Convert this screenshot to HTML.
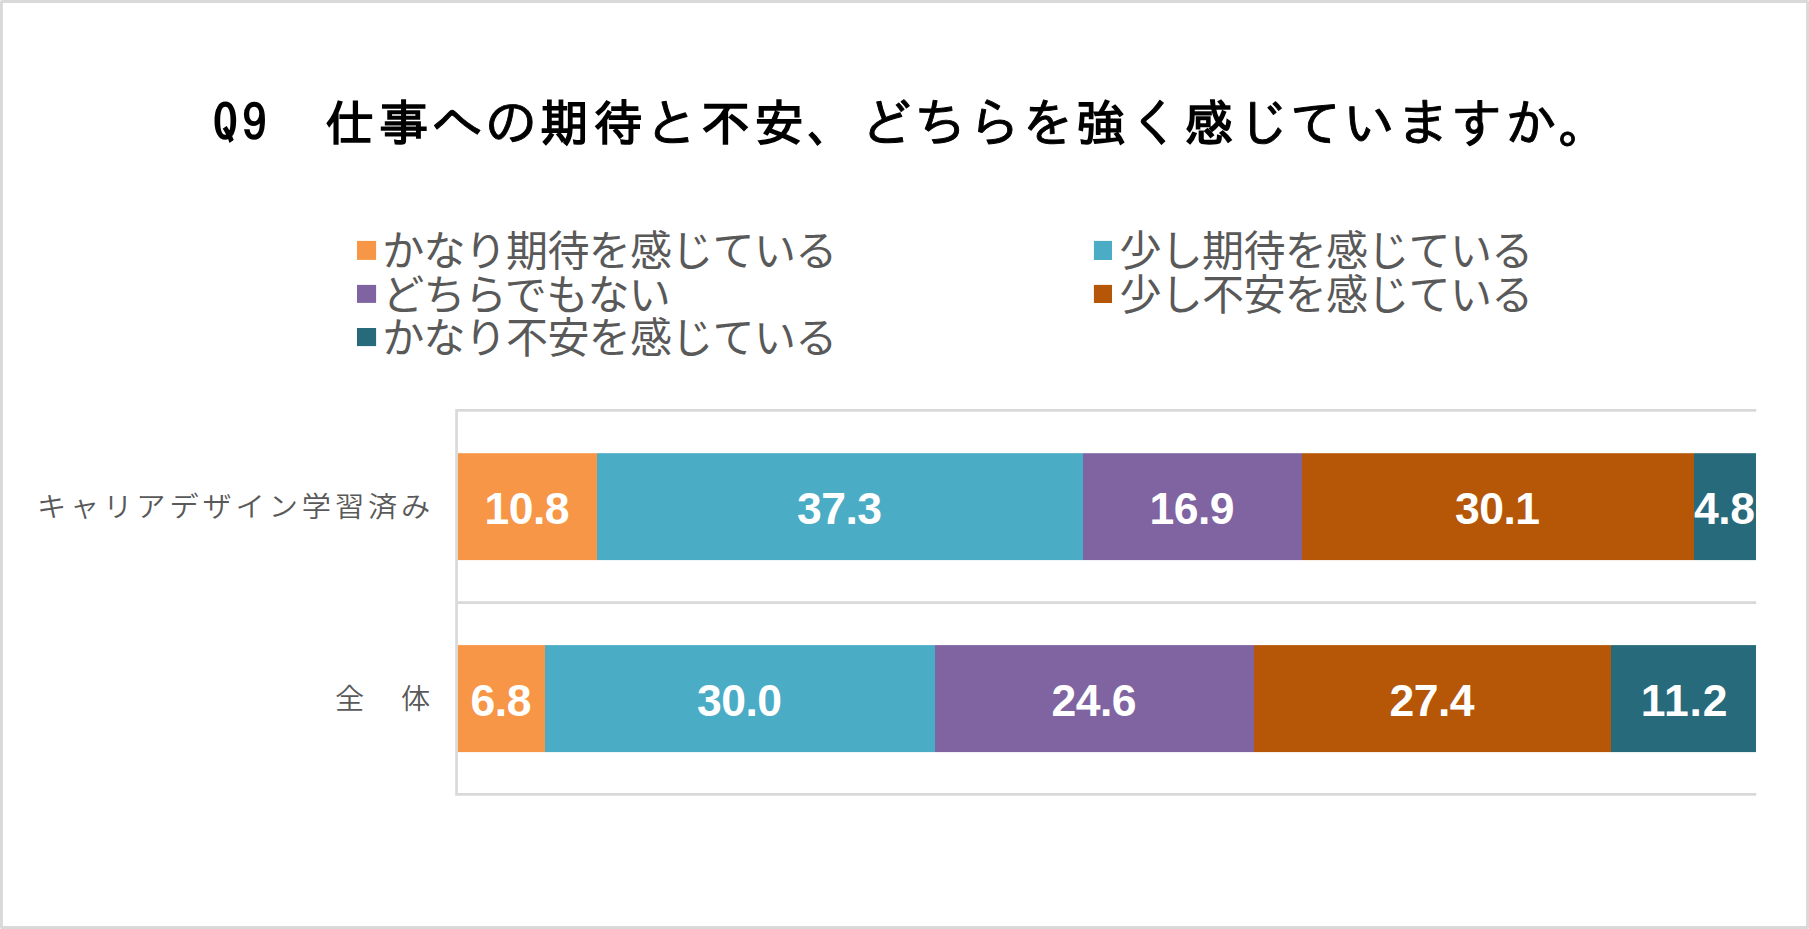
<!DOCTYPE html>
<html lang="ja">
<head>
<meta charset="utf-8">
<title>Q9 仕事への期待と不安</title>
<style>
html,body{margin:0;padding:0;background:#fff;}
body{width:1809px;height:929px;overflow:hidden;position:relative;}
svg{position:absolute;left:0;top:0;display:block;}
.title{font-family:"Liberation Sans","IPAGothic","Noto Sans CJK JP",sans-serif;font-weight:bold;font-size:49.3px;fill:#000;}
.q{font-family:"IPAGothic","Liberation Mono",monospace;}
.kn{font-weight:normal;font-size:52.5px;stroke:#000;stroke-width:0.9px;stroke-linejoin:round;}
.leg{font-family:"Liberation Sans","Noto Sans CJK JP",sans-serif;font-size:42px;letter-spacing:-0.7px;fill:#595959;}
.cat{font-family:"Liberation Sans","Noto Sans CJK JP",sans-serif;font-weight:350;font-size:29.2px;fill:#595959;letter-spacing:3.9px;}
.val{font-family:"Liberation Sans",sans-serif;font-weight:bold;font-size:44.5px;letter-spacing:-0.5px;fill:#fff;text-anchor:middle;}
</style>
</head>
<body>
<svg width="1809" height="929" viewBox="0 0 1809 929">
  <!-- outer frame -->
  <rect x="0" y="0" width="1809" height="929" rx="2" ry="2" fill="#d9d9d9"/>
  <rect x="2.9" y="3" width="1803.15" height="923.05" fill="#ffffff"/>

  <!-- title -->
  <text class="title" y="141"><tspan class="q" x="213.1 242.1">Q9</tspan><tspan x="271">　</tspan><tspan class="kj" x="325.2 378.9" y="141">仕事</tspan><tspan class="kn" x="430.9 484.6" y="142.2">への</tspan><tspan class="kj" x="539.9 593.5" y="141">期待</tspan><tspan class="kn" x="645.6" y="142.2">と</tspan><tspan class="kj" x="700.9 754.5" y="141">不安</tspan><tspan class="kn" x="806.6 860.3 914.0 967.6 1021.3" y="142.2">、どちらを</tspan><tspan class="kj" x="1076.6" y="141">強</tspan><tspan class="kn" x="1128.6" y="142.2">く</tspan><tspan class="kj" x="1183.9" y="141">感</tspan><tspan class="kn" x="1236.0 1289.6 1343.3 1397.0 1450.7 1504.3 1558.0" y="142.2">じていますか。</tspan></text>

  <!-- legend -->
  <rect x="357" y="240.9" width="19.1" height="19" fill="#f79646"/>
  <text class="leg" x="382.2" y="266">かなり期待を感じている</text>
  <rect x="357" y="284.9" width="19.1" height="18" fill="#8064a2"/>
  <text class="leg" x="382.2" y="309.5">どちらでもない</text>
  <rect x="357" y="328" width="19.1" height="18.1" fill="#276a7c"/>
  <text class="leg" x="382.2" y="353">かなり不安を感じている</text>
  <rect x="1093.9" y="240.9" width="18.1" height="19.1" fill="#4bacc6"/>
  <text class="leg" x="1119.5" y="266">少し期待を感じている</text>
  <rect x="1093.9" y="284.9" width="18.1" height="18.1" fill="#b65708"/>
  <text class="leg" x="1119.5" y="309.5">少し不安を感じている</text>

  <!-- grid lines -->
  <g fill="#d9d9d9">
    <rect x="457.9" y="409" width="1298.3" height="2.7"/>
    <rect x="457.9" y="601.2" width="1298.3" height="2.8"/>
    <rect x="457.9" y="793" width="1298.3" height="2.7"/>
    <rect x="455.2" y="409" width="2.7" height="386.7"/>
  </g>

  <!-- row 1 bars -->
  <rect x="458" y="453.2" width="139" height="106.9" fill="#f79646"/>
  <rect x="597" y="453.2" width="486" height="106.9" fill="#4bacc6"/>
  <rect x="1083" y="453.2" width="219" height="106.9" fill="#8064a2"/>
  <rect x="1302" y="453.2" width="392" height="106.9" fill="#b65708"/>
  <rect x="1694" y="453.2" width="62" height="106.9" fill="#276a7c"/>

  <!-- row 2 bars -->
  <rect x="458" y="645.1" width="87" height="107" fill="#f79646"/>
  <rect x="545" y="645.1" width="390" height="107" fill="#4bacc6"/>
  <rect x="935" y="645.1" width="319" height="107" fill="#8064a2"/>
  <rect x="1254" y="645.1" width="357" height="107" fill="#b65708"/>
  <rect x="1611" y="645.1" width="145" height="107" fill="#276a7c"/>

  <!-- category labels -->
  <text class="cat" x="434.2" y="517.3" text-anchor="end" transform="translate(0,506.1) scale(1,0.955) translate(0,-506.1)">キャリアデザイン学習済み</text>
  <text class="cat" x="434.2" y="709.3" text-anchor="end" transform="translate(0,698.2) scale(1,0.955) translate(0,-698.2)">全　体</text>

  <!-- data labels -->
  <g transform="translate(-0.75,0.3)">
  <text class="val" x="527.5" y="523.4">10.8</text>
  <text class="val" x="840" y="523.4">37.3</text>
  <text class="val" x="1192.5" y="523.4">16.9</text>
  <text class="val" x="1498" y="523.4">30.1</text>
  <text class="val" x="1725" y="523.4">4.8</text>
  </g>

  <g transform="translate(-0.75,0.3)">
  <text class="val" x="501.5" y="715.4">6.8</text>
  <text class="val" x="740" y="715.4">30.0</text>
  <text class="val" x="1094.5" y="715.4">24.6</text>
  <text class="val" x="1432.5" y="715.4">27.4</text>
  <text class="val" x="1685.3" y="715.4" style="letter-spacing:0.8px">11.2</text>
  </g>
</svg>
</body>
</html>
